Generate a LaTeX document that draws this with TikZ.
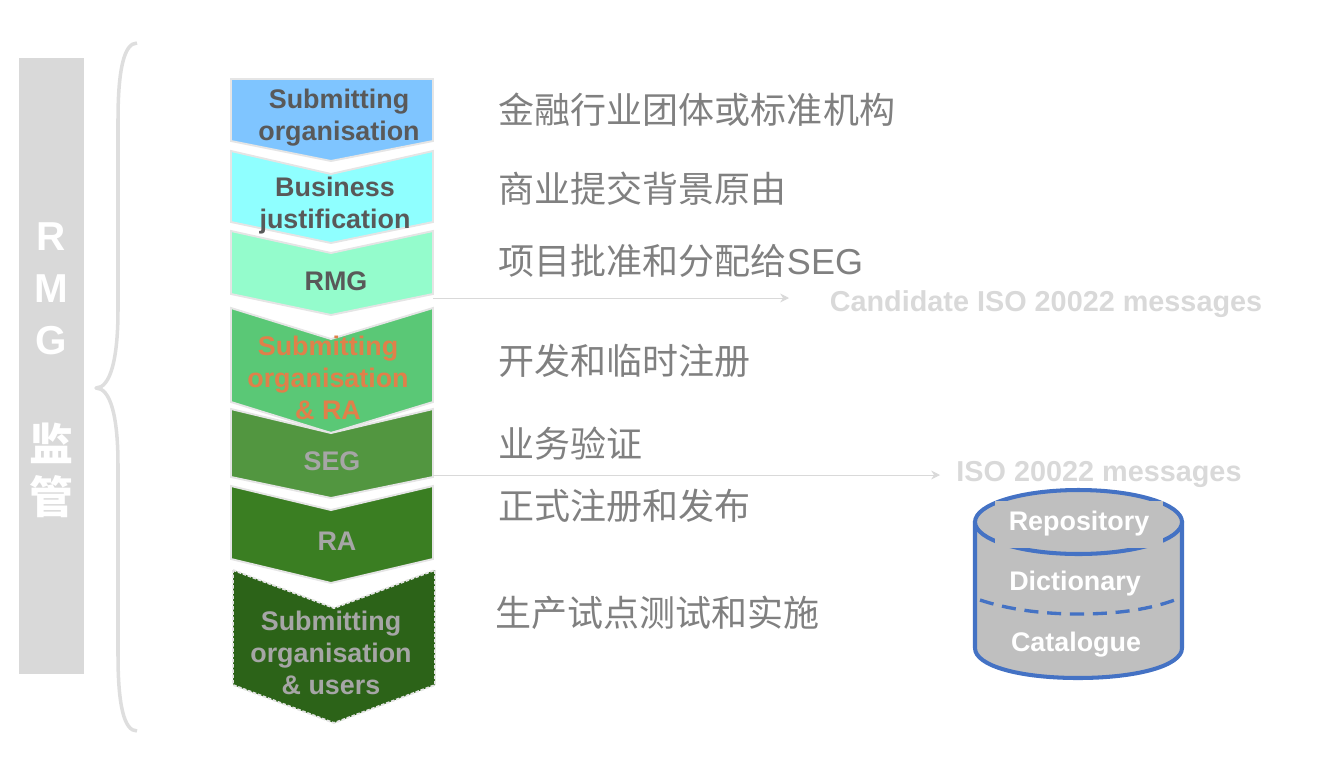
\documentclass[tikz,border=0pt]{standalone}
\usepackage{fontspec}
\setmainfont{Liberation Sans}
\newfontfamily\cjk{Noto Sans CJK SC}
\usetikzlibrary{arrows.meta, positioning}

\tikzset{
  chevronbox/.style={draw=black!10, line width=1.1pt, line join=miter},
  steptext/.style={font=\bfseries\fontsize{15.3}{18.2}\selectfont, align=center, inner sep=0pt},
  stagelabel/.style={font=\cjk\fontsize{20.5}{24}\selectfont, text=black!50, anchor=west, inner sep=0pt},
  greylabel/.style={font=\bfseries\fontsize{16.4}{19}\selectfont, text=black!15, inner sep=0pt},
  flowarrow/.style={-{Stealth[length=5pt,width=5pt]}, black!15, line width=0.5pt},
  sidetext/.style={font=\bfseries\fontsize{23}{26}\selectfont, text=white, inner sep=0pt},
  sidecjk/.style={font=\cjk\bfseries\fontsize{25}{28}\selectfont, text=white, inner sep=0pt},
  storetext/.style={font=\bfseries\fontsize{15.3}{18.2}\selectfont, text=white, inner sep=0pt},
}
\definecolor{stepone}{HTML}{7FC5FF}
\definecolor{steptwo}{HTML}{8FFFFF}
\definecolor{stepthree}{HTML}{94FCCC}
\definecolor{stepfour}{HTML}{5AC876}
\definecolor{stepfive}{HTML}{529640}
\definecolor{stepsix}{HTML}{3A7E22}
\definecolor{stepseven}{HTML}{2C6318}
\definecolor{darktext}{HTML}{595959}
\definecolor{orangetext}{HTML}{E0804A}
\definecolor{fadetext}{HTML}{A6A6A6}
\definecolor{storeblue}{HTML}{4472C4}
\definecolor{storegrey}{HTML}{BFBFBF}

\begin{document}
\begin{tikzpicture}[x=0.02cm, y=-0.02cm]
\useasboundingbox (0,0) rectangle (1322,768);

% Side bar and brace
\fill[black!15] (19,58) rectangle (84,674);
\node[sidetext] (sideR) at (51,237) {R};
\node[sidetext] (sideM) at (51,289) {M};
\node[sidetext] (sideG) at (51,341) {G};
\node[sidecjk] (sideJian) at (51,443) {监};
\node[sidecjk] (sideGuan) at (51,497) {管};
\draw[black!13, line width=2pt, line join=round] (137,43) .. controls (124,43) and (118,70) .. (118,120)
  -- (118,310) .. controls (118,360) and (110,388) .. (96,388)
  .. controls (110,388) and (118,415) .. (118,465)
  -- (118,655) .. controls (118,705) and (124,731) .. (137,731);

% Process chevrons
\filldraw[chevronbox, fill=stepone] (231,79) -- (433,79) -- (433,141) -- (331,161) -- (231,141) -- cycle;
\filldraw[chevronbox, fill=steptwo] (231,151) -- (331,174) -- (433,151) -- (433,222) -- (331,243) -- (231,222) -- cycle;
\filldraw[chevronbox, fill=stepthree] (231,231) -- (331,253) -- (433,231) -- (433,294) -- (331,315) -- (231,294) -- cycle;
\filldraw[chevronbox, fill=stepfour] (231,308) -- (331,339) -- (433,308) -- (433,402) -- (331,433) -- (231,402) -- cycle;
\filldraw[chevronbox, fill=stepfive] (231,409) -- (331,433) -- (433,409) -- (433,477) -- (331,498) -- (231,477) -- cycle;
\filldraw[chevronbox, fill=stepsix] (231,486) -- (331,510) -- (433,486) -- (433,559) -- (331,583) -- (231,559) -- cycle;
\filldraw[chevronbox, fill=stepseven, dash pattern=on 2pt off 1pt] (233,570) -- (334,608) -- (435,570) -- (435,685) -- (334,723) -- (233,685) -- cycle;

% Chevron texts
\node[steptext, text=darktext] (submit) at (339,118) {Submitting\\organisation};
\node[steptext, text=darktext] (justify) at (335,206) {Business\\justification};
\node[steptext, text=darktext] (rmg) at (336,281) {RMG};
\node[steptext, text=orangetext] (develop) at (328,378) {Submitting\\organisation\\\& RA};
\node[steptext, text=fadetext] (seg) at (332,461) {SEG};
\node[steptext, text=fadetext] (ra) at (337,541) {RA};
\node[steptext, text=fadetext] (users) at (331,653) {Submitting\\organisation\\\& users};

% Stage descriptions
\node[stagelabel] (stageOne) at (498.5,110) {金融行业团体或标准机构};
\node[stagelabel] (stageTwo) at (498.5,189) {商业提交背景原由};
\node[stagelabel] (stageThree) at (498.5,261) {项目批准和分配给{\rmfamily SEG}};
\node[stagelabel] (stageFour) at (498.5,361) {开发和临时注册};
\node[stagelabel] (stageFive) at (498.5,444) {业务验证};
\node[stagelabel] (stageSix) at (498.5,506) {正式注册和发布};
\node[stagelabel] (stageSeven) at (495.5,613) {生产试点测试和实施};

% Output arrows
\coordinate (candidateStart) at (433,298);
\coordinate (candidateEnd) at (789,298);
\coordinate (messageStart) at (433,475);
\coordinate (messageEnd) at (940,475);
\draw[flowarrow] (candidateStart) -- (candidateEnd);
\draw[flowarrow] (messageStart) -- (messageEnd);
\node[greylabel] (candidate) at (1046,304) {Candidate ISO 20022 messages};
\node[greylabel] (messages) at (1099,474) {ISO 20022 messages};

% Repository cylinder
\filldraw[fill=storegrey, draw=storeblue, line width=2.3pt] (975,521) -- (975,648)
  .. controls (975,666) and (1020,678) .. (1078,678)
  .. controls (1136,678) and (1182,666) .. (1182,648) -- (1182,521);
\filldraw[fill=storegrey, draw=storeblue, line width=2.3pt] (1078.5,522) ellipse (103.5 and 32);
\draw[storeblue, line width=1.9pt, dash pattern=on 8pt off 5pt] (980,600)
  .. controls (1010,610) and (1045,614) .. (1078,614)
  .. controls (1115,614) and (1150,610) .. (1180,598);
\node[storetext, fill=storegrey, minimum width=3.36cm, minimum height=0.94cm] (repository) at (1079,524) {Repository};
\node[storetext] (dictionary) at (1075,584) {Dictionary};
\node[storetext] (catalogue) at (1076,645) {Catalogue};
\end{tikzpicture}
\end{document}
